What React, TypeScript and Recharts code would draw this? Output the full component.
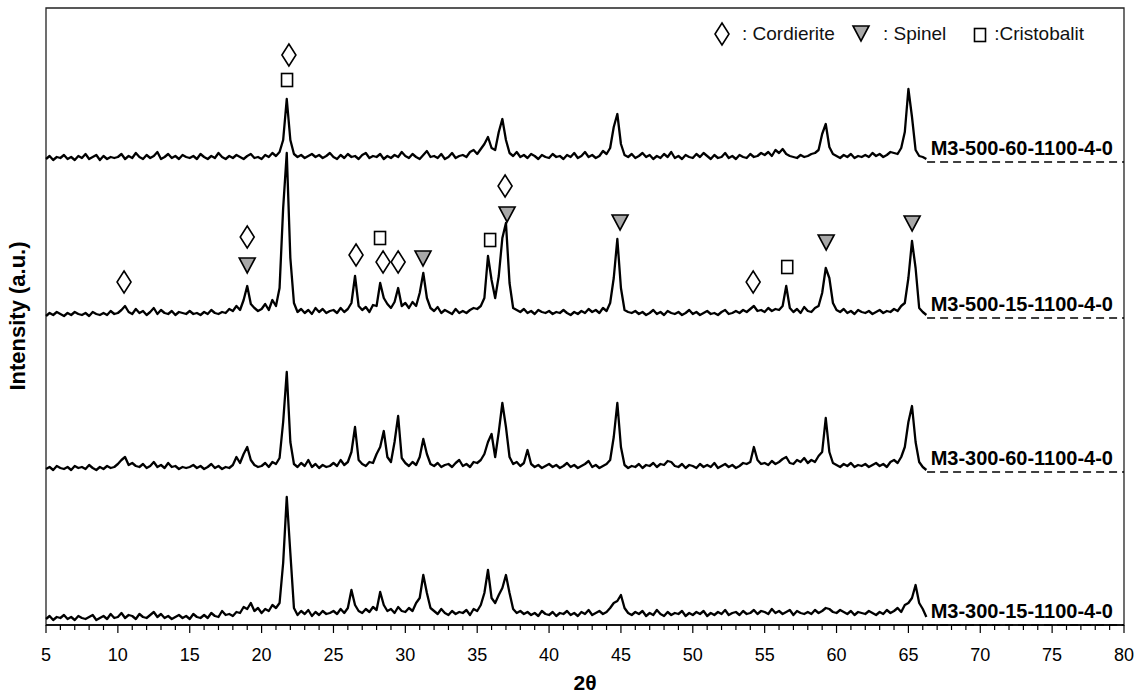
import React from "react";
import {
  ComposedChart,
  Line,
  XAxis,
  YAxis,
  ReferenceArea,
  ReferenceLine,
  ReferenceDot,
} from "recharts";

// 2θ grid: 5.00 ... 66.25 in 0.25° steps (one value per step in every pattern)
const twoThetaStart = 5;
const twoThetaStep = 0.25;

// intensities above each pattern's own baseline (a.u.), 4 values per degree
const m3_500_60 = [
  3, 6, 2, 5, 4, 7, 3, 5, 2, 6, 4, 8, 3, 5, 7, 2, 6, 3, 5, 4, // 5-9
  5, 8, 3, 6, 4, 9, 5, 3, 7, 4, 6, 10, 3, 5, 8, 4, 6, 3, 7, 5, // 10-14
  4, 6, 3, 8, 5, 3, 6, 4, 9, 5, 3, 6, 4, 7, 5, 3, 6, 8, 4, 5, // 15-19
  3, 7, 5, 9, 6, 10, 22, 63, 22, 8, 5, 7, 4, 6, 8, 5, 7, 4, 6, 9, // 20-24
  5, 3, 7, 4, 8, 5, 6, 3, 7, 9, 4, 6, 5, 8, 3, 6, 4, 7, 5, 10, // 25-29
  6, 4, 8, 5, 3, 7, 11, 5, 6, 4, 8, 3, 5, 9, 4, 6, 7, 5, 10, 12, // 30-34
  8, 13, 18, 25, 14, 12, 30, 43, 22, 9, 6, 10, 5, 7, 4, 8, 6, 3, 7, 5, // 35-39
  4, 8, 5, 6, 3, 7, 5, 9, 4, 6, 10, 5, 7, 4, 6, 11, 8, 14, 35, 48, // 40-44
  18, 7, 5, 8, 4, 6, 9, 5, 7, 3, 6, 4, 8, 5, 10, 4, 6, 3, 7, 5, // 45-49
  4, 8, 5, 9, 6, 3, 7, 4, 5, 9, 4, 6, 3, 7, 5, 4, 8, 5, 6, 9, // 50-54
  7, 10, 6, 12, 9, 13, 8, 6, 5, 4, 7, 5, 6, 8, 9, 12, 28, 38, 15, 8, // 55-59
  6, 4, 7, 5, 8, 4, 6, 5, 7, 5, 9, 6, 8, 5, 7, 10, 9, 8, 14, 30, // 60-64
  73, 45, 12, 6, 5, 3, // 65-66.25
];

const m3_500_15 = [
  2, 5, 3, 6, 4, 2, 5, 3, 6, 4, 3, 5, 2, 6, 4, 3, 5, 3, 7, 4, // 5-9
  5, 8, 12, 6, 4, 9, 5, 7, 3, 6, 10, 4, 8, 5, 4, 7, 3, 6, 5, 4, // 10-14
  7, 4, 5, 3, 6, 4, 8, 5, 4, 6, 5, 9, 7, 12, 8, 18, 32, 14, 10, 7, // 15-19
  9, 14, 8, 18, 12, 30, 110, 165, 60, 15, 6, 9, 5, 8, 4, 10, 6, 9, 5, 7, // 20-24
  8, 5, 10, 6, 9, 15, 42, 12, 8, 11, 6, 13, 12, 35, 20, 14, 10, 16, 30, 12, // 25-29
  15, 10, 16, 12, 25, 45, 20, 10, 7, 11, 5, 8, 6, 4, 9, 5, 7, 5, 8, 10, // 30-34
  9, 12, 20, 62, 38, 20, 42, 80, 95, 35, 10, 8, 6, 9, 5, 7, 4, 8, 6, 5, // 35-39
  7, 4, 6, 5, 8, 5, 3, 6, 4, 7, 5, 9, 6, 8, 5, 10, 7, 15, 40, 79, // 40-44
  30, 8, 6, 5, 7, 4, 6, 3, 5, 8, 4, 6, 3, 7, 5, 4, 6, 3, 5, 8, // 45-49
  4, 6, 3, 5, 7, 4, 5, 3, 6, 8, 4, 5, 7, 5, 8, 6, 9, 12, 7, 8, // 50-54
  6, 10, 7, 9, 8, 12, 32, 10, 6, 9, 5, 11, 7, 6, 10, 12, 25, 50, 40, 15, // 55-59
  8, 6, 9, 5, 7, 4, 8, 6, 5, 7, 4, 6, 8, 5, 7, 6, 9, 7, 12, 15, // 60-64
  40, 77, 50, 10, 6, 3, // 65-66.25
];

const m3_300_60 = [
  3, 5, 2, 6, 4, 3, 5, 2, 6, 4, 5, 3, 7, 4, 2, 5, 3, 6, 4, 5, // 5-9
  8, 12, 15, 7, 9, 6, 5, 8, 4, 6, 10, 5, 7, 4, 9, 5, 6, 3, 5, 4, // 10-14
  5, 7, 4, 6, 3, 5, 8, 4, 6, 3, 5, 4, 7, 15, 9, 18, 25, 12, 7, 5, // 15-19
  6, 9, 5, 10, 8, 14, 50, 100, 30, 8, 5, 9, 6, 12, 5, 8, 4, 7, 5, 6, // 20-24
  9, 6, 12, 7, 10, 20, 45, 12, 8, 6, 10, 9, 18, 25, 41, 15, 10, 30, 56, 14, // 25-29
  9, 6, 10, 7, 15, 33, 18, 8, 6, 9, 5, 7, 8, 5, 9, 12, 6, 8, 5, 10, // 30-34
  9, 12, 18, 30, 38, 15, 40, 69, 45, 15, 8, 10, 6, 9, 22, 8, 5, 7, 4, 6, // 35-39
  8, 5, 7, 4, 6, 9, 5, 7, 4, 6, 8, 11, 5, 7, 4, 6, 8, 12, 35, 69, // 40-44
  25, 7, 4, 6, 5, 8, 4, 7, 6, 9, 5, 8, 7, 11, 10, 6, 5, 8, 4, 7, // 45-49
  6, 4, 8, 5, 7, 5, 9, 4, 6, 8, 5, 7, 4, 6, 9, 8, 10, 25, 12, 8, // 50-54
  9, 7, 11, 8, 10, 13, 15, 9, 8, 12, 10, 14, 9, 12, 10, 16, 20, 54, 20, 9, // 55-59
  7, 5, 8, 6, 9, 5, 7, 6, 8, 5, 7, 9, 6, 8, 5, 10, 12, 9, 15, 25, // 60-64
  50, 66, 30, 10, 5, 2, // 65-66.25
];

const m3_300_15 = [
  4, 7, 3, 6, 5, 8, 4, 6, 3, 7, 5, 4, 6, 8, 3, 5, 7, 4, 9, 5, // 5-9
  6, 10, 5, 8, 7, 4, 9, 6, 5, 8, 11, 6, 9, 5, 7, 4, 6, 8, 5, 7, // 10-14
  4, 9, 6, 5, 8, 5, 10, 7, 6, 12, 8, 9, 7, 11, 10, 16, 14, 20, 12, 15, // 15-19
  10, 14, 12, 18, 15, 20, 60, 126, 70, 15, 8, 12, 9, 13, 7, 11, 8, 12, 9, 10, // 20-24
  12, 9, 14, 10, 15, 33, 18, 12, 10, 14, 11, 16, 13, 31, 18, 12, 14, 10, 16, 12, // 25-29
  11, 15, 12, 20, 25, 48, 30, 15, 12, 9, 14, 10, 8, 12, 9, 11, 10, 13, 8, 14, // 30-34
  12, 18, 30, 53, 25, 20, 28, 35, 48, 30, 14, 10, 12, 9, 11, 8, 10, 7, 12, 9, // 35-39
  8, 11, 7, 10, 9, 12, 8, 10, 7, 11, 9, 13, 8, 10, 12, 9, 11, 15, 20, 22, // 40-44
  28, 15, 10, 8, 11, 9, 12, 7, 10, 8, 13, 9, 7, 11, 8, 10, 9, 12, 7, 10, // 45-49
  8, 11, 9, 12, 7, 10, 8, 11, 9, 13, 8, 10, 11, 8, 12, 9, 10, 13, 9, 12, // 50-54
  11, 9, 14, 10, 12, 9, 11, 13, 8, 12, 10, 9, 11, 9, 13, 10, 12, 15, 14, 11, // 55-59
  10, 13, 11, 9, 12, 8, 11, 10, 9, 12, 10, 8, 11, 9, 13, 10, 12, 15, 11, 18, // 60-64
  20, 25, 38, 20, 14, 6, // 65-66.25
];

const seriesNames = [
  "M3-500-60-1100-4-0",
  "M3-500-15-1100-4-0",
  "M3-300-60-1100-4-0",
  "M3-300-15-1100-4-0",
];
// vertical shift of each pattern (a.u.)
const seriesOffsets = [463, 307, 153, 2];
const dashedBaselines = [463, 307, 153, 0];

const xTicks = [
  5, 6, 7, 8, 9, 10, 11, 12, 13, 14, 15, 16, 17, 18, 19, 20, 21, 22, 23, 24, 25,
  26, 27, 28, 29, 30, 31, 32, 33, 34, 35, 36, 37, 38, 39, 40, 41, 42, 43, 44, 45,
  46, 47, 48, 49, 50, 51, 52, 53, 54, 55, 56, 57, 58, 59, 60, 61, 62, 63, 64, 65,
  66, 67, 68, 69, 70, 71, 72, 73, 74, 75, 76, 77, 78, 79, 80,
];

// phase markers: 2θ, height (a.u.), phase
const markerTheta = [
  21.9, 21.77,
  10.43, 19.0, 19.0, 26.57, 28.24, 28.45, 29.5, 31.23, 35.9, 36.94, 37.08,
  44.94, 54.2, 56.57, 59.28, 65.26,
];
const markerHeight = [
  570, 545,
  343, 388, 360, 370, 387, 363, 363, 367, 385, 439, 411,
  403, 343, 358, 383, 402,
];
const markerPhase = [
  "C", "X",
  "C", "C", "S", "C", "X", "C", "C", "S", "X", "C", "S",
  "S", "C", "X", "S", "S",
];

const FONT = "'Liberation Sans', Arial, sans-serif";

const rows = m3_500_60.map((_, i) => ({
  t: twoThetaStart + i * twoThetaStep,
  s1: seriesOffsets[0] + m3_500_60[i],
  s2: seriesOffsets[1] + m3_500_15[i],
  s3: seriesOffsets[2] + m3_300_60[i],
  s4: seriesOffsets[3] + m3_300_15[i],
}));

const PhaseIcon = ({ kind, cx, cy }: { kind: string; cx: number; cy: number }) => {
  if (kind === "C") {
    return (
      <polygon
        points={`${cx},${cy - 11} ${cx + 7},${cy} ${cx},${cy + 11} ${cx - 7},${cy}`}
        fill="#fff"
        stroke="#000"
        strokeWidth={1.6}
      />
    );
  }
  if (kind === "S") {
    return (
      <polygon
        points={`${cx - 8},${cy - 7} ${cx + 8},${cy - 7} ${cx},${cy + 8}`}
        fill="#a8a8a8"
        stroke="#000"
        strokeWidth={1.6}
      />
    );
  }
  return (
    <rect x={cx - 5.5} y={cy - 6.5} width={11} height={13} fill="#fff" stroke="#000" strokeWidth={1.6} />
  );
};

const AxisTick = (props: any) => {
  const { x, y, payload } = props;
  const major = payload.value % 5 === 0;
  return (
    <g>
      <line x1={x} x2={x} y1={y} y2={y + (major ? 8 : 5)} stroke="#000" strokeWidth={1.2} />
      {major && (
        <text x={x} y={y + 36} textAnchor="middle" fontSize={18} fontFamily={FONT} fill="#000">
          {payload.value}
        </text>
      )}
    </g>
  );
};

const legendText: React.CSSProperties = { fontFamily: FONT, fontSize: 19, color: "#111" };

const App = () => {
  return (
    <div style={{ position: "absolute", left: 0, top: 0, width: 1147, height: 695, background: "#fff" }}>
      <ComposedChart
        width={1147}
        height={695}
        data={rows}
        margin={{ top: 8, right: 23, bottom: 10, left: 0 }}
      >
        <XAxis
          dataKey="t"
          type="number"
          domain={[5, 80]}
          ticks={xTicks}
          interval={0}
          height={60}
          tickSize={0}
          tickMargin={0}
          tickLine={false}
          axisLine={{ stroke: "#000", strokeWidth: 1.3 }}
          tick={<AxisTick />}
          label={{
            content: () => (
              <text x={585} y={690} textAnchor="middle" fontSize={21} fontWeight="bold" fontFamily={FONT} fill="#000">
                2θ
              </text>
            ),
          }}
        />
        <YAxis
          type="number"
          domain={[0, 617]}
          width={46}
          tick={false}
          tickLine={false}
          axisLine={false}
          label={{
            content: () => (
              <text
                x={25}
                y={316}
                transform="rotate(-90 25 316)"
                textAnchor="middle"
                fontSize={22}
                fontWeight="bold"
                fontFamily={FONT}
                fill="#000"
              >
                Intensity (a.u.)
              </text>
            ),
          }}
        />
        <ReferenceArea x1={5} x2={80} y1={0} y2={617} fill="none" stroke="#222" strokeWidth={1.3} />
        {dashedBaselines.map((b, k) => (
          <ReferenceLine
            key={seriesNames[k]}
            segment={[
              { x: 66.3, y: b },
              { x: 80, y: b },
            ]}
            stroke="#000"
            strokeWidth={1.3}
            strokeDasharray="8 5"
            label={{
              content: (p: any) => {
                const vb = p.viewBox || {};
                return (
                  <text
                    x={vb.x + vb.width - 11}
                    y={vb.y - 7}
                    textAnchor="end"
                    fontSize={20}
                    fontWeight="bold"
                    fontFamily={FONT}
                    fill="#000"
                  >
                    {seriesNames[k]}
                  </text>
                );
              },
            }}
          />
        ))}
        {["s1", "s2", "s3", "s4"].map((key) => (
          <Line
            key={key}
            dataKey={key}
            type="linear"
            stroke="#000"
            strokeWidth={2.3}
            strokeLinejoin="round"
            dot={false}
            activeDot={false}
            isAnimationActive={false}
          />
        ))}
        {markerTheta.map((t, i) => (
          <ReferenceDot
            key={i}
            x={t}
            y={markerHeight[i]}
            r={1}
            shape={(p: any) => <PhaseIcon kind={markerPhase[i]} cx={p.cx} cy={p.cy} />}
          />
        ))}
      </ComposedChart>
      <div
        style={{
          position: "absolute",
          left: 712,
          top: 21,
          display: "flex",
          alignItems: "center",
          whiteSpace: "nowrap",
        }}
      >
        <svg width={20} height={26}>
          <PhaseIcon kind="C" cx={10} cy={13} />
        </svg>
        <span style={{ ...legendText, marginLeft: 10 }}>: Cordierite</span>
        <svg width={20} height={26} style={{ marginLeft: 16 }}>
          <PhaseIcon kind="S" cx={10} cy={12} />
        </svg>
        <span style={{ ...legendText, marginLeft: 12 }}>: Spinel</span>
        <svg width={16} height={26} style={{ marginLeft: 26 }}>
          <PhaseIcon kind="X" cx={8} cy={14} />
        </svg>
        <span style={{ ...legendText, marginLeft: 6 }}>:Cristobalit</span>
      </div>
    </div>
  );
};

export default App;
